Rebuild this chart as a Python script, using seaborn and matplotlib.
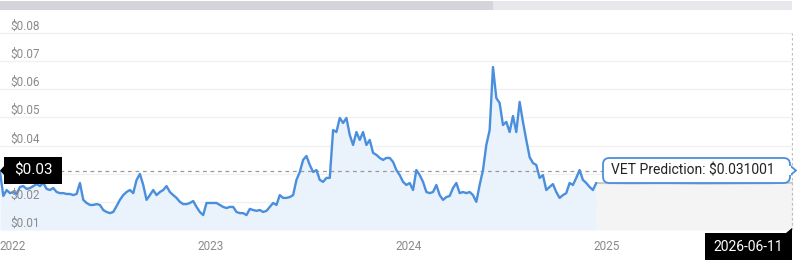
import numpy as np
import pandas as pd
import matplotlib
matplotlib.use("Agg")
import matplotlib.pyplot as plt
import matplotlib.transforms as mtransforms
from matplotlib.patches import Rectangle, Polygon, FancyBboxPatch
import seaborn as sns

# ---------------- data ----------------
hist_start = "2021-12-09"
hist_end = "2024-12-13"
hist_values = [
    0.0306, 0.0221, 0.0242, 0.0231, 0.0235, 0.0228, 0.0253, 0.0256, 0.0246, 0.0249,
    0.0256, 0.0263, 0.0256, 0.0267, 0.0246, 0.0242, 0.0249, 0.0235, 0.0231, 0.0231,
    0.0228, 0.0228, 0.0224, 0.0228, 0.0267, 0.0207, 0.0196, 0.0189, 0.0189, 0.0192,
    0.0189, 0.0171, 0.0164, 0.0160, 0.0164, 0.0185, 0.0207, 0.0224, 0.0235, 0.0242,
    0.0231, 0.0278, 0.0299, 0.0260, 0.0207, 0.0224, 0.0242, 0.0224, 0.0235, 0.0242,
    0.0256, 0.0235, 0.0224, 0.0214, 0.0200, 0.0192, 0.0192, 0.0196, 0.0203, 0.0182,
    0.0164, 0.0153, 0.0196, 0.0196, 0.0196, 0.0196, 0.0189, 0.0182, 0.0178, 0.0182,
    0.0182, 0.0164, 0.0160, 0.0160, 0.0153, 0.0175, 0.0171, 0.0168, 0.0171, 0.0164,
    0.0168, 0.0182, 0.0196, 0.0189, 0.0224, 0.0214, 0.0214, 0.0217, 0.0224, 0.0278,
    0.0306, 0.0349, 0.0363, 0.0331, 0.0306, 0.0313, 0.0278, 0.0271, 0.0285, 0.0285,
    0.0455, 0.0448, 0.0498, 0.0480, 0.0498, 0.0438, 0.0402, 0.0448, 0.0420, 0.0448,
    0.0402, 0.0420, 0.0374, 0.0367, 0.0356, 0.0349, 0.0356, 0.0356, 0.0342, 0.0313,
    0.0295, 0.0271, 0.0260, 0.0267, 0.0242, 0.0313, 0.0295, 0.0271, 0.0235, 0.0231,
    0.0235, 0.0260, 0.0224, 0.0207, 0.0217, 0.0221, 0.0249, 0.0267, 0.0231, 0.0235,
    0.0231, 0.0235, 0.0224, 0.0200, 0.0260, 0.0313, 0.0402, 0.0455, 0.0679, 0.0569,
    0.0551, 0.0473, 0.0484, 0.0448, 0.0505, 0.0448, 0.0555, 0.0484, 0.0420, 0.0359,
    0.0338, 0.0331, 0.0285, 0.0295, 0.0242, 0.0253, 0.0263, 0.0235, 0.0214, 0.0224,
    0.0231, 0.0267, 0.0260, 0.0285, 0.0313, 0.0278, 0.0267, 0.0253, 0.0242, 0.0267,
]
pred_dates = ["2024-12-13", "2025-02-15", "2025-04-20", "2025-06-25",
              "2025-08-30", "2025-10-30", "2025-12-11"]
pred_values = [0.0267, 0.0265, 0.0266, 0.0264, 0.0265, 0.0266, 0.0268]
pred_price = 0.031001

year_ticks = ["2022-01-01", "2023-01-01", "2024-01-01", "2025-01-01"]
year_labels = ["2022", "2023", "2024", "2025"]
price_ticks = [0.01, 0.02, 0.03, 0.04, 0.05, 0.06, 0.07, 0.08]
price_labels = ["$0.01", "$0.02", "$0.03", "$0.04", "$0.05", "$0.06", "$0.07", "$0.08"]
x_range = ["2021-12-09", "2025-12-11"]
y_range = [0.01, 0.0846]

hover_price = 0.03
hover_price_label = "$0.03"
prediction_label = "VET Prediction: $0.031001"
hover_date_label = "2026-06-11"

# ---------------- frames ----------------
hist = pd.DataFrame({
    "date": pd.date_range(hist_start, hist_end, periods=len(hist_values)),
    "price": hist_values,
})
pred = pd.DataFrame({"date": pd.to_datetime(pred_dates), "price": pred_values})

# ---------------- style ----------------
sns.set_theme(style="white")
plt.rcParams["font.family"] = ["Roboto", "DejaVu Sans"]

W, H = 797, 267
fig = plt.figure(figsize=(W / 100, H / 100), dpi=100)
fig.patch.set_facecolor("white")

def fx(px):
    return px / W

def fy(py):
    return 1 - py / H

ax = fig.add_axes([0, fy(230), fx(793), fy(20) - fy(230)])
ax.set_facecolor("white")

LINE = "#4a8fdd"
FILL = "#eaf2fc"

ax.fill_between(pred["date"], pred["price"], y_range[0], color="#f4f4f4", lw=0, zorder=1)
ax.fill_between(hist["date"], hist["price"], y_range[0], color=FILL, lw=0, zorder=1)
sns.lineplot(data=pred, x="date", y="price", ax=ax, color="#c8c8c8", linewidth=1.4, zorder=2)
sns.lineplot(data=hist, x="date", y="price", ax=ax, color=LINE, linewidth=1.7, zorder=3)

ax.set_xlim(pd.Timestamp(x_range[0]), pd.Timestamp(x_range[1]))
ax.set_ylim(*y_range)
ax.set_xlabel("")
ax.set_ylabel("")

ax.set_yticks(price_ticks)
ax.set_yticklabels([])
ax.grid(axis="y", color="#f1f1f1", linewidth=1, zorder=0)
ax.grid(axis="x", visible=False)
ax.tick_params(axis="y", length=0, left=False)

ax.set_xticks(pd.to_datetime(year_ticks))
ax.set_xticklabels(year_labels)
ax.tick_params(axis="x", length=0, pad=7, labelsize=8.5, labelcolor="#8a8a8a")

for s in ax.spines.values():
    s.set_visible(False)

# y labels drawn inside the plot; the one under the hover tooltip is hidden by it
trans = mtransforms.blended_transform_factory(ax.transAxes, ax.transData)
for v, lab in zip(price_ticks, price_labels):
    if abs(v - hover_price) < 1e-9:
        continue
    ax.text(10 / 793, v + 0.0011, lab, transform=trans, ha="left", va="baseline",
            fontsize=8.5, color="#8a8a8a", zorder=4)

# dashed reference lines
ax.axhline(pred_price, color="#9a9a9a", lw=0.9, ls=(0, (3, 3)), zorder=2)
ax.vlines(pd.Timestamp(x_range[1]) - pd.Timedelta(days=1), y_range[0], 0.08,
          color="#bdbdbd", lw=0.9, ls=(0, (2, 2)), zorder=2)

# top scroll bar
fig.patches.append(Rectangle((fx(0), fy(10)), fx(493), fy(1) - fy(10),
                             transform=fig.transFigure, color="#d4d4da", lw=0))
fig.patches.append(Rectangle((fx(493), fy(10)), fx(792) - fx(493), fy(1) - fy(10),
                             transform=fig.transFigure, color="#e7e7ec", lw=0))

# left hover price tooltip
fig.patches.append(Rectangle((fx(4), fy(184)), fx(62) - fx(4), fy(157) - fy(184),
                             transform=fig.transFigure, color="black", lw=0, zorder=10))
fig.patches.append(Polygon([(fx(0), fy(170.5)), (fx(5), fy(165)), (fx(5), fy(176))],
                           closed=True, transform=fig.transFigure, color="black",
                           lw=0, zorder=10))
fig.text(fx(33), fy(170.5), hover_price_label, color="white", fontsize=11,
         ha="center", va="center", zorder=11)

# prediction tooltip
fig.patches.append(Polygon([(fx(796), fy(170.5)), (fx(788), fy(164)), (fx(788), fy(177))],
                           closed=True, transform=fig.transFigure, facecolor="white",
                           edgecolor="#4a8fdd", lw=1.3, zorder=10))
fig.patches.append(FancyBboxPatch((fx(603), fy(183)), fx(790) - fx(603), fy(158) - fy(183),
                                  boxstyle="round,pad=0,rounding_size=0.008",
                                  transform=fig.transFigure, facecolor="white",
                                  edgecolor="#4a8fdd", lw=1.3, zorder=10,
                                  mutation_aspect=W / H))
fig.patches.append(Rectangle((fx(787), fy(175)), fx(790.5) - fx(787), fy(166) - fy(175),
                             transform=fig.transFigure, color="white", lw=0, zorder=11))
fig.text(fx(693), fy(170.5), prediction_label, color="#222222", fontsize=10,
         ha="center", va="center", zorder=12)

# bottom date tooltip
fig.patches.append(Rectangle((fx(705), fy(260)), fx(792) - fx(705), fy(233) - fy(260),
                             transform=fig.transFigure, color="black", lw=0, zorder=10))
fig.patches.append(Polygon([(fx(786), fy(233)), (fx(792), fy(228)), (fx(792), fy(233))],
                           closed=True, transform=fig.transFigure, color="black",
                           lw=0, zorder=10))
fig.text(fx(748.5), fy(247), hover_date_label, color="white", fontsize=10,
         ha="center", va="center", zorder=11)

fig.savefig("out.png", dpi=100, facecolor="white")
